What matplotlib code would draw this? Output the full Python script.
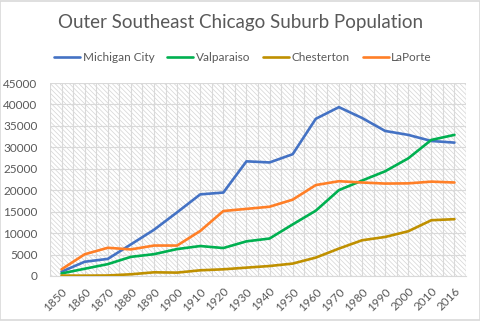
import matplotlib
matplotlib.use("Agg")
import matplotlib.pyplot as plt
from matplotlib.patches import Rectangle
import numpy as np

years = ['1850', '1860', '1870', '1880', '1890', '1900', '1910', '1920', '1930',
         '1940', '1950', '1960', '1970', '1980', '1990', '2000', '2010', '2016']
michigan_city = [1000, 3320, 3985, 7366, 10776, 14850, 19027, 19457, 26735,
                 26476, 28395, 36653, 39369, 36850, 33822, 32900, 31479, 31100]
valparaiso = [600, 1690, 2765, 4461, 5090, 6280, 6987, 6518, 8079,
              8736, 12028, 15227, 20020, 22247, 24414, 27428, 31730, 32900]
chesterton = [100, 80, 120, 400, 860, 790, 1330, 1560, 1950,
              2330, 2890, 4290, 6390, 8330, 9100, 10430, 13000, 13250]
laporte = [1560, 5060, 6580, 6200, 7100, 7100, 10500, 15150, 15650,
           16150, 17800, 21200, 22100, 21800, 21550, 21600, 22000, 21800]

series = [("Michigan City", michigan_city, "#4472C4"),
          ("Valparaiso", valparaiso, "#00B050"),
          ("Chesterton", chesterton, "#BF9000"),
          ("LaPorte", laporte, "#FF7F27")]

plt.rcParams['font.family'] = ['Lato', 'DejaVu Sans']
plt.rcParams['hatch.linewidth'] = 0.5
txt = '#595959'
grid = '#D9D9D9'

fig = plt.figure(figsize=(4.81, 3.21), dpi=100)
fig.patch.set_facecolor('white')
fig.add_artist(Rectangle((0.001, 0.002), 0.997, 0.995, transform=fig.transFigure,
                         fill=False, edgecolor=grid, linewidth=1.2))

ax = fig.add_axes([50/481, 45/321, 416/481, 193/321])
x = np.arange(len(years))

ax.add_patch(Rectangle((0, 0), 1, 1, transform=ax.transAxes, facecolor='none',
                       edgecolor='#D4D4D4', hatch='\\' * 7, linewidth=0, zorder=0))

for name, vals, col in series:
    ax.plot(x, vals, color=col, linewidth=1.9, label=name, zorder=3,
            solid_capstyle='round', solid_joinstyle='round')

ax.set_xlim(-0.5, len(years) - 0.5)
ax.set_ylim(0, 45000)
ax.set_yticks(np.arange(0, 45001, 5000))
ax.set_xticks(x)
ax.set_xticks(np.arange(-0.5, len(years), 1.0), minor=True)
ax.set_xticklabels(years, rotation=45, ha='right', rotation_mode='anchor',
                   color=txt, fontsize=8.5)
ax.tick_params(axis='x', which='both', length=0, pad=7)
ax.tick_params(axis='y', length=0, pad=9, labelcolor=txt, labelsize=8.5)
ax.grid(True, which='major', axis='both', color=grid, linewidth=0.8, zorder=1)
ax.grid(True, which='minor', axis='x', color=grid, linewidth=0.8, zorder=1)
ax.set_axisbelow(True)
for s in ['top', 'right', 'left']:
    ax.spines[s].set_visible(False)
ax.spines['bottom'].set_color(grid)
ax.spines['bottom'].set_linewidth(0.8)
ax.axvline(len(years) - 0.5, color=grid, linewidth=0.8, zorder=1)

fig.text(0.5, 0.93, "Outer Southeast Chicago Suburb Population", ha='center',
         va='center', fontsize=13.5, color=txt)
fig.legend(loc='center', bbox_to_anchor=(0.505, 0.822), ncol=4, frameon=False,
           fontsize=8.5, handlelength=2.2, columnspacing=1.1, handletextpad=0.2,
           labelcolor=txt)

fig.savefig('out.png', dpi=100)
